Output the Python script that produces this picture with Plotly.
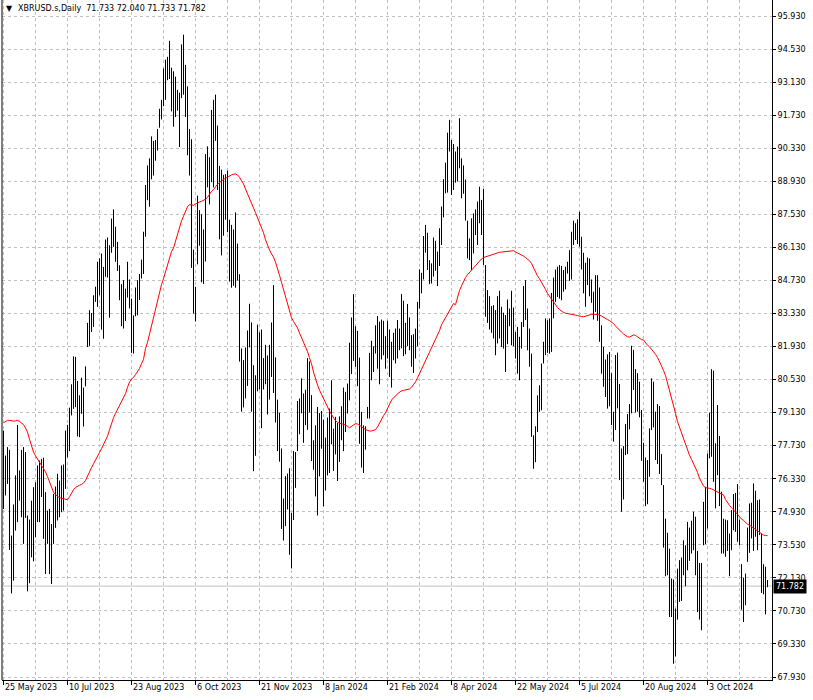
import plotly.graph_objects as go

# ---------------- data ----------------
symbol_title = "XBRUSD.s,Daily"
last_ohlc = [71.733, 72.040, 71.733, 71.782]

tick_index = [0, 32, 64, 96, 128, 160, 192, 224, 256, 288, 320, 352]
tick_labels = ["25 May 2023", "10 Jul 2023", "23 Aug 2023", "6 Oct 2023",
               "21 Nov 2023", "8 Jan 2024", "21 Feb 2024", "8 Apr 2024",
               "22 May 2024", "5 Jul 2024", "20 Aug 2024", "3 Oct 2024"]

highs = [
    78.37, 77.31, 77.67, 77.55, 73.92, 75.24, 76.47, 78.61, 76.68, 77.55,
    77.67, 77.46, 74.77, 74.60, 75.40, 75.97, 76.18, 76.89, 77.10, 77.17,
    77.22, 75.76, 74.98, 75.05, 74.41, 75.69, 76.00, 76.54, 76.25, 76.89,
    76.93, 78.37, 78.61, 79.34, 80.33, 81.51, 81.49, 80.47, 79.86, 80.61,
    80.19, 81.09, 82.93, 83.47, 83.35, 84.10, 84.46, 85.52, 85.66, 85.87,
    85.30, 86.46, 86.55, 86.22, 87.35, 87.74, 87.00, 86.36, 85.37, 84.57,
    84.74, 84.38, 85.52, 84.77, 83.96, 83.25, 84.43, 84.74, 85.00, 85.61,
    86.79, 88.77, 89.60, 89.90, 90.83, 90.64, 90.68, 91.14, 92.00, 92.38,
    93.71, 94.08, 94.20, 94.88, 93.74, 93.59, 93.36, 92.80, 92.68, 94.73,
    95.14, 93.86, 92.95, 91.14, 90.71, 86.03, 84.46, 88.32, 87.71, 87.53,
    86.89, 90.08, 90.41, 89.95, 91.95, 92.38, 92.60, 91.29, 89.58, 89.42,
    89.20, 89.23, 89.38, 87.30, 87.08, 86.89, 87.61, 86.29, 84.99, 81.85,
    81.35, 81.89, 82.61, 83.74, 82.95, 81.14, 80.71, 82.86, 82.53, 82.65,
    81.44, 82.00, 81.55, 82.00, 82.95, 84.53, 81.47, 79.68, 79.12, 77.61,
    75.49, 76.44, 76.55, 76.77, 74.88, 77.50, 77.46, 79.62, 79.73, 80.58,
    79.94, 80.10, 81.44, 81.30, 79.87, 77.96, 78.59, 79.37, 79.11, 79.20,
    78.83, 78.07, 78.92, 79.30, 80.50, 78.45, 78.95, 78.69, 78.97, 79.40,
    80.19, 80.01, 80.36, 82.09, 83.16, 84.15, 82.79, 82.59, 81.46, 79.16,
    78.59, 78.55, 79.37, 81.66, 82.17, 81.94, 82.83, 83.22, 82.98, 83.07,
    83.02, 82.37, 83.02, 82.65, 82.13, 82.51, 82.69, 83.05, 82.69, 84.15,
    83.87, 82.93, 83.73, 83.16, 82.41, 82.45, 82.69, 83.82, 85.20, 85.05,
    86.61, 87.08, 86.75, 85.59, 85.45, 86.55, 86.41, 85.95, 86.94, 87.86,
    89.02, 89.72, 90.99, 91.53, 90.68, 90.51, 90.19, 90.40, 91.60, 89.90,
    89.60, 89.00, 87.26, 86.51, 87.36, 87.57, 87.74, 88.07, 88.70, 88.14,
    88.60, 85.38, 84.32, 84.06, 83.64, 83.68, 83.47, 84.06, 84.29, 83.61,
    83.36, 83.26, 83.92, 83.54, 84.29, 83.58, 82.55, 82.76, 82.34, 82.97,
    84.49, 84.74, 83.54, 82.69, 81.63, 78.17, 78.55, 79.86, 80.29, 81.21,
    82.13, 83.12, 83.04, 83.12, 84.20, 84.85, 85.19, 85.31, 85.38, 85.34,
    85.17, 85.31, 85.52, 86.01, 86.79, 87.26, 87.15, 87.32, 87.64, 86.58,
    85.90, 85.48, 85.70, 85.66, 84.77, 84.25, 84.95, 84.95, 84.43, 82.83,
    81.91, 81.38, 81.60, 81.70, 80.80, 79.17, 81.57, 81.67, 80.34, 77.61,
    77.71, 78.65, 79.07, 79.49, 81.96, 81.79, 80.97, 80.80, 80.44, 79.24,
    77.85, 77.23, 77.12, 78.46, 80.58, 80.44, 79.17, 79.49, 79.41, 77.37,
    76.06, 74.64, 74.04, 73.37, 72.10, 72.06, 70.83, 72.52, 72.88, 72.99,
    73.72, 73.51, 74.50, 74.26, 74.55, 74.93, 74.72, 73.27, 72.76, 72.76,
    75.35, 75.99, 77.40, 79.13, 80.97, 80.91, 77.83, 79.45, 78.14, 75.78,
    74.64, 74.60, 74.57, 74.01, 75.00, 75.68, 75.73, 76.10, 74.60, 72.71,
    72.14, 72.31, 74.26, 75.28, 75.31, 76.13, 75.82, 75.42, 75.45, 74.01,
    72.71, 72.60, 72.04,
]

lows = [
    75.05, 75.62, 76.11, 73.31, 71.47, 72.01, 74.13, 74.49, 75.40, 74.70,
    73.57, 74.67, 71.56, 71.90, 73.00, 72.83, 73.85, 74.49, 74.49, 75.55,
    73.78, 72.29, 73.57, 72.29, 71.87, 73.57, 74.25, 74.56, 74.70, 74.91,
    74.98, 75.90, 77.24, 77.50, 79.01, 79.29, 79.36, 78.12, 78.09, 79.08,
    78.54, 80.24, 81.91, 81.94, 82.55, 82.76, 83.82, 83.61, 84.10, 82.64,
    82.26, 84.88, 84.85, 83.15, 85.90, 86.15, 85.52, 85.13, 83.89, 82.79,
    82.69, 83.01, 84.00, 83.54, 81.66, 81.63, 83.21, 83.25, 83.90, 84.81,
    85.00, 86.58, 88.13, 87.85, 89.01, 89.17, 89.80, 90.23, 91.20, 91.55,
    92.11, 92.38, 93.21, 93.26, 91.89, 91.24, 91.65, 91.92, 90.38, 92.45,
    92.60, 91.65, 90.03, 89.17, 85.26, 83.32, 82.99, 85.41, 86.20, 84.65,
    84.58, 85.53, 88.67, 87.95, 88.89, 88.67, 90.64, 88.56, 86.47, 85.79,
    86.62, 87.30, 86.77, 84.68, 84.42, 84.50, 84.42, 84.73, 81.29, 79.17,
    79.35, 79.73, 80.26, 81.89, 79.17, 76.65, 77.30, 80.03, 80.11, 78.47,
    80.11, 80.33, 79.05, 79.68, 80.64, 79.96, 78.71, 77.50, 77.05, 74.20,
    73.71, 74.32, 75.03, 73.11, 72.53, 74.58, 75.94, 77.50, 78.21, 79.10,
    77.85, 78.60, 78.40, 79.14, 77.08, 76.71, 75.58, 74.77, 76.43, 77.60,
    75.16, 75.83, 76.47, 76.57, 77.79, 76.66, 77.36, 76.23, 77.04, 77.96,
    77.50, 78.31, 79.09, 79.65, 80.76, 81.32, 81.07, 80.25, 77.81, 76.80,
    76.57, 77.56, 78.88, 78.88, 80.50, 80.85, 81.63, 80.99, 80.33, 81.38,
    81.56, 80.99, 81.42, 80.64, 80.19, 81.35, 81.21, 81.42, 81.77, 81.85,
    81.52, 81.60, 81.94, 81.77, 81.07, 80.81, 81.42, 81.94, 83.54, 84.18,
    84.77, 85.90, 85.17, 84.57, 84.60, 84.89, 85.14, 84.49, 85.34, 86.23,
    87.40, 88.42, 88.45, 90.19, 88.35, 88.56, 88.87, 88.92, 89.48, 88.21,
    88.40, 87.26, 85.66, 85.59, 85.17, 85.87, 86.65, 86.23, 87.15, 86.65,
    85.38, 83.19, 82.93, 82.65, 82.51, 82.27, 81.56, 82.06, 82.27, 81.91,
    81.84, 80.85, 82.03, 82.79, 81.98, 81.94, 81.42, 80.78, 80.50, 81.84,
    82.76, 83.05, 81.77, 81.07, 78.10, 76.75, 77.03, 78.31, 79.16, 79.23,
    81.21, 81.56, 81.66, 81.63, 81.70, 83.12, 83.82, 84.03, 83.96, 83.89,
    84.25, 84.35, 85.02, 84.71, 84.77, 86.23, 86.44, 86.27, 86.16, 85.19,
    84.18, 83.61, 84.53, 84.06, 83.78, 83.07, 83.40, 83.02, 82.13, 80.78,
    80.22, 79.79, 79.30, 79.40, 78.60, 77.90, 78.39, 79.31, 76.27, 74.93,
    75.45, 77.33, 77.37, 78.42, 79.10, 80.09, 79.13, 79.17, 78.93, 77.09,
    76.20, 75.17, 75.25, 76.41, 78.39, 78.50, 77.12, 76.95, 76.53, 76.06,
    73.41, 72.20, 72.24, 70.47, 70.47, 68.49, 68.80, 70.36, 71.11, 71.15,
    72.24, 71.77, 72.45, 72.85, 73.16, 73.30, 72.24, 70.68, 70.36, 69.91,
    73.51, 73.56, 74.22, 77.19, 77.26, 76.20, 75.07, 76.48, 75.17, 73.16,
    73.16, 73.02, 73.27, 72.20, 73.30, 74.15, 74.08, 73.66, 73.51, 70.78,
    70.26, 70.97, 72.81, 73.19, 73.80, 73.27, 73.87, 73.30, 73.94, 71.49,
    71.43, 70.58, 71.733,
]

ma_values = [
    78.70, 78.76, 78.80, 78.80, 78.78, 78.77, 78.78, 78.80, 78.76, 78.70,
    78.62, 78.48, 78.30, 78.00, 77.70, 77.46, 77.30, 77.17, 77.02, 76.90,
    76.80, 76.62, 76.42, 76.20, 75.96, 75.76, 75.65, 75.57, 75.53, 75.50,
    75.48, 75.44, 75.44, 75.56, 75.74, 75.86, 75.96, 76.02, 76.05, 76.09,
    76.15, 76.25, 76.45, 76.62, 76.80, 76.96, 77.10, 77.28, 77.44, 77.60,
    77.76, 77.95, 78.13, 78.40, 78.70, 78.91, 79.10, 79.28, 79.45, 79.58,
    79.75, 79.93, 80.20, 80.42, 80.55, 80.62, 80.74, 80.86, 81.00, 81.20,
    81.38, 81.85, 82.10, 82.45, 82.80, 83.15, 83.55, 83.95, 84.25, 84.55,
    84.80, 85.10, 85.45, 85.75, 85.95, 86.10, 86.40, 86.70, 87.00, 87.25,
    87.45, 87.65, 87.85, 87.94, 87.92, 87.91, 87.97, 88.02, 88.05, 88.08,
    88.11, 88.17, 88.25, 88.38, 88.50, 88.58, 88.70, 88.80, 88.88, 88.95,
    89.02, 89.06, 89.10, 89.16, 89.20, 89.23, 89.24, 89.20, 89.10, 88.95,
    88.82, 88.60, 88.38, 88.18, 88.00, 87.80, 87.60, 87.40, 87.18, 86.95,
    86.75, 86.45, 86.20, 86.02, 85.85, 85.72, 85.50, 85.25, 84.95, 84.65,
    84.35, 84.02, 83.70, 83.40, 83.15, 82.99, 82.85, 82.72, 82.50, 82.32,
    82.15, 81.95, 81.72, 81.45, 81.20, 80.85, 80.55, 80.30, 80.08, 79.90,
    79.72, 79.50, 79.36, 79.20, 79.05, 78.90, 78.78, 78.72, 78.67, 78.65,
    78.64, 78.61, 78.55, 78.49, 78.55, 78.62, 78.66, 78.65, 78.60, 78.53,
    78.47, 78.41, 78.37, 78.35, 78.35, 78.37, 78.41, 78.52, 78.70, 78.88,
    79.00, 79.12, 79.30, 79.48, 79.66, 79.76, 79.82, 79.93, 80.00, 80.05,
    80.07, 80.08, 80.10, 80.13, 80.20, 80.30, 80.43, 80.60, 80.78, 80.98,
    81.15, 81.32, 81.55, 81.75, 81.90, 82.05, 82.23, 82.42, 82.60, 82.85,
    83.00, 83.16, 83.35, 83.50, 83.62, 83.75, 83.70, 84.05, 84.30, 84.50,
    84.70, 84.85, 84.97, 85.07, 85.15, 85.25, 85.34, 85.45, 85.55, 85.64,
    85.70, 85.73, 85.76, 85.80, 85.83, 85.85, 85.87, 85.90, 85.92, 85.93,
    85.94, 85.94, 85.95, 85.97, 85.98, 85.99, 85.94, 85.90, 85.86, 85.82,
    85.76, 85.70, 85.64, 85.56, 85.45, 85.25, 85.05, 84.92, 84.80, 84.65,
    84.55, 84.35, 84.18, 84.05, 83.95, 83.80, 83.68, 83.58, 83.50, 83.43,
    83.37, 83.34, 83.33, 83.31, 83.29, 83.27, 83.26, 83.24, 83.21, 83.20,
    83.19, 83.22, 83.24, 83.28, 83.29, 83.30, 83.30, 83.30, 83.27, 83.22,
    83.16, 83.10, 83.07, 83.03, 82.97, 82.90, 82.80, 82.70, 82.62, 82.54,
    82.46, 82.40, 82.34, 82.33, 82.38, 82.42, 82.40, 82.35, 82.28, 82.22,
    82.21, 82.08, 81.98, 81.92, 81.82, 81.73, 81.60, 81.47, 81.30, 81.12,
    80.92, 80.70, 80.40, 80.10, 79.80, 79.45, 79.10, 78.75, 78.50, 78.25,
    78.00, 77.75, 77.50, 77.32, 77.15, 76.98, 76.78, 76.60, 76.35, 76.18,
    76.02, 75.95, 75.92, 75.92, 75.90, 75.86, 75.81, 75.76, 75.73, 75.70,
    75.64, 75.45, 75.30, 75.20, 75.10, 75.03, 74.92, 74.82, 74.70, 74.62,
    74.57, 74.47, 74.40, 74.36, 74.30, 74.25, 74.18, 74.12, 74.05, 74.00,
    73.94, 73.92, 73.92,
]

# ---------------- figure ----------------
FONT = "DejaVu Sans"
TXT = "#000000"
GRID = "#c0c0c0"

n = min(len(highs), len(lows))
bar_x, bar_y = [], []
for i in range(n):
    bar_x += [i, i, None]
    bar_y += [lows[i], highs[i], None]

fig = go.Figure()
fig.add_trace(go.Scatter(x=bar_x, y=bar_y, mode="lines",
                         line=dict(color="black", width=1),
                         hoverinfo="skip", showlegend=False))
fig.add_trace(go.Scatter(x=list(range(len(ma_values))), y=ma_values, mode="lines",
                         line=dict(color="#ff0000", width=1),
                         hoverinfo="skip", showlegend=False))

px_per_unit = 661 / 28.0
y_top = 95.93 + 16 / px_per_unit
y_bot = 95.93 - 664 / px_per_unit

minor_vals = [t + 16 for t in tick_index]

fig.update_xaxes(
    range=[-0.75, 384.25], tickvals=tick_index, showticklabels=False,
    ticks="outside", ticklen=4, tickcolor="black", tickwidth=1,
    showgrid=True, gridcolor=GRID, gridwidth=1, griddash="3px,3px",
    minor=dict(tickvals=minor_vals, showgrid=True, gridcolor=GRID,
               gridwidth=1, griddash="3px,3px", ticks=""),
    showline=True, linecolor="black", linewidth=1, zeroline=False,
    fixedrange=True,
)
fig.update_yaxes(
    side="right", range=[y_bot, y_top], tick0=67.93, dtick=1.4,
    tickformat=".3f", ticks="outside", ticklen=3, tickcolor="black",
    showgrid=True, gridcolor=GRID, gridwidth=1, griddash="3px,3px",
    showline=True, linecolor="black", linewidth=1, zeroline=False,
    tickfont=dict(family=FONT, size=8, color=TXT), fixedrange=True,
)

shapes = [
    dict(type="line", xref="paper", yref="paper", x0=0, x1=0, y0=0, y1=1,
         line=dict(color="black", width=1)),
    dict(type="line", xref="paper", yref="y", x0=0, x1=1,
         y0=last_ohlc[3], y1=last_ohlc[3], line=dict(color=GRID, width=1),
         layer="below"),
]

annotations = []
for idx, lab in zip(tick_index, tick_labels):
    annotations.append(dict(x=idx, y=0, xref="x", yref="paper", text=lab,
                            showarrow=False, xanchor="left", yanchor="top",
                            xshift=0, yshift=-2, borderpad=0,
                            font=dict(family=FONT, size=8, color=TXT)))
# current price box
annotations.append(dict(x=1, y=last_ohlc[3], xref="paper", yref="y",
                        text=f"{last_ohlc[3]:.3f}", showarrow=False,
                        xanchor="left", yanchor="middle", xshift=1,
                        bgcolor="black", borderpad=2,
                        font=dict(family=FONT, size=8, color="white")))
# title
annotations.append(dict(x=0, y=1, xref="paper", yref="paper", text="\u25bc",
                        showarrow=False, xanchor="left", yanchor="top",
                        xshift=3, yshift=-3, borderpad=0,
                        font=dict(family=FONT, size=8, color=TXT)))
title_text = symbol_title + "\u00a0\u00a0" + " ".join(f"{v:.3f}" for v in last_ohlc)
annotations.append(dict(x=0, y=1, xref="paper", yref="paper", text=title_text,
                        showarrow=False, xanchor="left", yanchor="top",
                        xshift=15, yshift=-3, borderpad=0,
                        font=dict(family=FONT, size=8, color=TXT)))

fig.update_layout(
    width=813, height=700,
    margin=dict(l=2, r=41, t=0, b=20, pad=0),
    paper_bgcolor="white", plot_bgcolor="white",
    showlegend=False, shapes=shapes, annotations=annotations,
    font=dict(family=FONT, size=8, color=TXT),
)

fig.write_html("out.html",
               config={"displayModeBar": False, "staticPlot": True},
               post_script="document.body.style.margin='0px';"
                           "document.body.style.overflow='hidden';")
